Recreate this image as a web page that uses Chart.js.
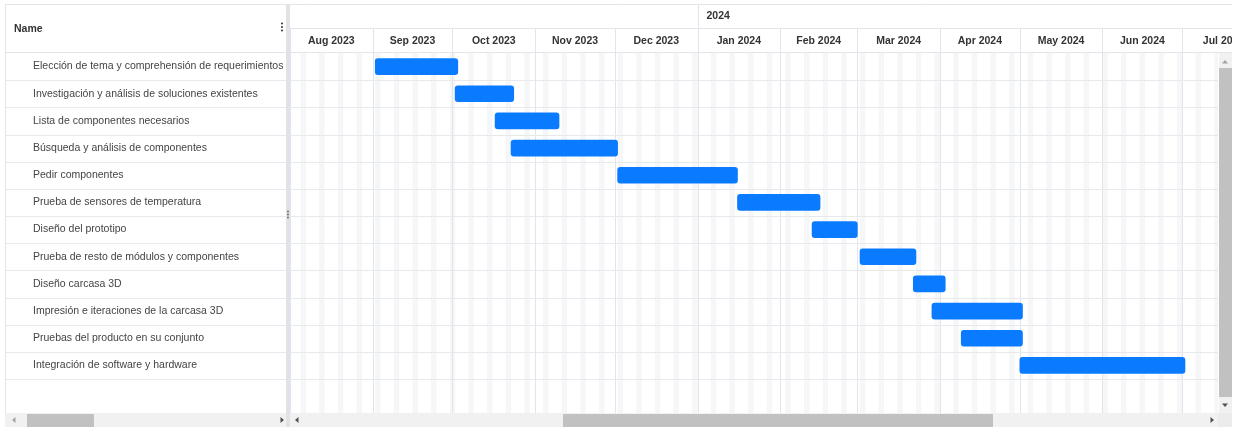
<!DOCTYPE html>
<html><head><meta charset="utf-8">
<script src="https://cdn.jsdelivr.net/npm/chart.js@4/dist/chart.umd.min.js"></script>
<style>html,body{margin:0;padding:0;background:#fff;overflow:hidden}#wrap{position:relative;width:1243px;height:427px}</style>
</head><body><div id="wrap"><canvas id="c" width="1243" height="427"></canvas></div>
<script>
const columnTitle = 'Name';
const taskNames = [
  'Elección de tema y comprehensión de requerimientos',
  'Investigación y análisis de soluciones existentes',
  'Lista de componentes necesarios',
  'Búsqueda y análisis de componentes',
  'Pedir componentes',
  'Prueba de sensores de temperatura',
  'Diseño del prototipo',
  'Prueba de resto de módulos y componentes',
  'Diseño carcasa 3D',
  'Impresión e iteraciones de la carcasa 3D',
  'Pruebas del producto en su conjunto',
  'Integración de software y hardware'
];
const taskStarts = ['2023-09-02','2023-10-02','2023-10-17','2023-10-23','2023-12-02','2024-01-16','2024-02-13','2024-03-02','2024-03-22','2024-03-29','2024-04-09','2024-05-01'];
const taskEnds   = ['2023-10-03','2023-10-24','2023-11-10','2023-12-02','2024-01-16','2024-02-16','2024-03-01','2024-03-23','2024-04-03','2024-05-02','2024-05-02','2024-07-02'];
const monthLabels = ['Aug 2023','Sep 2023','Oct 2023','Nov 2023','Dec 2023','Jan 2024','Feb 2024','Mar 2024','Apr 2024','May 2024','Jun 2024','Jul 2024'];
const monthStarts = ['2023-08-01','2023-09-01','2023-10-01','2023-11-01','2023-12-01','2024-01-01','2024-02-01','2024-03-01','2024-04-01','2024-05-01','2024-06-01','2024-07-01','2024-08-01'];
const yearLabels = ['2024'];
const yearStarts = ['2024-01-01'];
const viewStart = '2023-08-01';
const viewEnd = '2024-07-14';

const FONT = "'Liberation Sans', Arial, sans-serif";
const T0 = Date.UTC(2023, 7, 1);
function dayOf(s){ const [y,m,d] = s.split('-').map(Number); return (Date.UTC(y,m-1,d) - T0) / 864e5; }

const ganttPlugin = {
  id: 'gantt',
  beforeDraw(chart){
    const ctx = chart.ctx, xs = chart.scales.x, ys = chart.scales.y, ca = chart.chartArea;
    const bodyBottom = 413;
    ctx.save();
    ctx.fillStyle = '#fff'; ctx.fillRect(0,0,chart.width,chart.height);
    // weekend stripes
    ctx.beginPath(); ctx.rect(ca.left, ca.top, ca.right-ca.left, bodyBottom-ca.top); ctx.clip();
    ctx.fillStyle = '#f5f6f8';
    const d0 = Math.floor(xs.min), d1 = Math.ceil(xs.max);
    for (let d = d0; d <= d1; d++) {
      const wd = new Date(T0 + d*864e5).getUTCDay();
      if (wd === 0 || wd === 6) {
        const a = xs.getPixelForValue(d), b = xs.getPixelForValue(d+1);
        ctx.fillRect(a, ca.top, b-a, bodyBottom-ca.top);
      }
    }
    // month lines
    ctx.strokeStyle = '#e2e4e9'; ctx.lineWidth = 1;
    monthStarts.forEach(s => {
      const x = Math.round(xs.getPixelForValue(dayOf(s))) + 0.5;
      ctx.beginPath(); ctx.moveTo(x, ca.top); ctx.lineTo(x, bodyBottom); ctx.stroke();
    });
    ctx.restore();
    // row lines
    ctx.save();
    ctx.strokeStyle = '#e8e9ed'; ctx.lineWidth = 1;
    const rowH = (ca.bottom - ca.top) / taskNames.length;
    for (let i = 1; i <= taskNames.length; i++) {
      const y = Math.round(ys.getPixelForValue(i-1) + rowH/2) + 0.5;
      ctx.beginPath(); ctx.moveTo(5, y); ctx.lineTo(ca.right, y); ctx.stroke();
    }
    ctx.restore();
  },
  afterDraw(chart){
    const ctx = chart.ctx, xs = chart.scales.x, ca = chart.chartArea;
    const R = 1232, hTop = 4.5, hMid = 28.5, hBot = 53;
    ctx.save();
    // header background
    ctx.fillStyle = '#fff'; ctx.fillRect(5, 0, R-5, hBot);
    ctx.strokeStyle = '#e3e5ea'; ctx.lineWidth = 1;
    ctx.beginPath(); ctx.moveTo(5, hTop); ctx.lineTo(R, hTop); ctx.stroke();
    ctx.beginPath(); ctx.moveTo(ca.left, hMid); ctx.lineTo(R, hMid); ctx.stroke();
    ctx.beginPath(); ctx.moveTo(5, hBot-0.5); ctx.lineTo(R, hBot-0.5); ctx.stroke();
    ctx.beginPath(); ctx.moveTo(5.5, hTop); ctx.lineTo(5.5, 413); ctx.stroke();
    // header clip
    ctx.save();
    ctx.beginPath(); ctx.rect(ca.left, 0, R-ca.left, hBot); ctx.clip();
    ctx.strokeStyle = '#e2e4e9';
    monthStarts.forEach(s => {
      const x = Math.round(xs.getPixelForValue(dayOf(s))) + 0.5;
      ctx.beginPath(); ctx.moveTo(x, hMid); ctx.lineTo(x, hBot); ctx.stroke();
    });
    yearStarts.forEach(s => {
      const x = Math.round(xs.getPixelForValue(dayOf(s))) + 0.5;
      ctx.beginPath(); ctx.moveTo(x, hTop); ctx.lineTo(x, hMid); ctx.stroke();
    });
    ctx.fillStyle = '#333'; ctx.font = 'bold 10.5px ' + FONT; ctx.textBaseline = 'middle';
    ctx.textAlign = 'center';
    monthLabels.forEach((lab, i) => {
      const a = xs.getPixelForValue(dayOf(monthStarts[i])), b = xs.getPixelForValue(dayOf(monthStarts[i+1]));
      ctx.fillText(lab, (a+b)/2, 41);
    });
    ctx.textAlign = 'left';
    yearLabels.forEach((lab, i) => {
      ctx.fillText(lab, xs.getPixelForValue(dayOf(yearStarts[i])) + 9, 16.5);
    });
    ctx.restore();
    // Name header
    ctx.fillStyle = '#333'; ctx.font = 'bold 10.5px ' + FONT; ctx.textBaseline = 'middle'; ctx.textAlign = 'left';
    ctx.fillText(columnTitle, 14, 29);
    ctx.fillStyle = '#444';
    [23.5, 27, 30.5].forEach(y => { ctx.beginPath(); ctx.arc(282, y, 1.1, 0, Math.PI*2); ctx.fill(); });
    // splitter
    ctx.fillStyle = '#dfe2e7'; ctx.fillRect(286, hTop, 4, 427-hTop);
    ctx.fillStyle = '#666';
    [211.5, 214.5, 217.5].forEach(y => { ctx.beginPath(); ctx.arc(288, y, 0.9, 0, Math.PI*2); ctx.fill(); });
    // horizontal scrollbars
    ctx.fillStyle = '#f1f1f1'; ctx.fillRect(5, 413, 281, 14); ctx.fillRect(290, 413, ca.right-290, 14);
    ctx.fillStyle = '#c1c1c1'; ctx.fillRect(27, 414, 67, 13); ctx.fillRect(563, 414, 430, 13);
    ctx.fillStyle = '#ececec'; ctx.fillRect(ca.right, 413, R-ca.right, 14);
    // vertical scrollbar
    ctx.fillStyle = '#f1f1f1'; ctx.fillRect(1219, hBot, 13, 413-hBot);
    ctx.fillStyle = '#c1c1c1'; ctx.fillRect(1219, 68, 13, 329);
    function tri(x, y, dir, col){
      ctx.fillStyle = col; ctx.beginPath();
      if (dir==='l'){ ctx.moveTo(x-2,y); ctx.lineTo(x+1.5,y-3); ctx.lineTo(x+1.5,y+3); }
      if (dir==='r'){ ctx.moveTo(x+2,y); ctx.lineTo(x-1.5,y-3); ctx.lineTo(x-1.5,y+3); }
      if (dir==='u'){ ctx.moveTo(x,y-2); ctx.lineTo(x-3,y+1.5); ctx.lineTo(x+3,y+1.5); }
      if (dir==='d'){ ctx.moveTo(x,y+2); ctx.lineTo(x-3,y-1.5); ctx.lineTo(x+3,y-1.5); }
      ctx.closePath(); ctx.fill();
    }
    tri(14, 420, 'l', '#a3a3a3'); tri(282, 420, 'r', '#505050');
    tri(297, 420, 'l', '#505050'); tri(1212, 420, 'r', '#505050');
    tri(1225, 62, 'u', '#a3a3a3'); tri(1225, 405, 'd', '#505050');
    ctx.restore();
  }
};

new Chart(document.getElementById('c'), {
  type: 'bar',
  data: {
    labels: taskNames,
    datasets: [{
      data: taskStarts.map((s, i) => [dayOf(s), dayOf(taskEnds[i])]),
      backgroundColor: '#0a7bff',
      borderWidth: 0,
      borderRadius: 3,
      borderSkipped: false,
      barThickness: 16
    }]
  },
  options: {
    indexAxis: 'y',
    responsive: false,
    animation: false,
    devicePixelRatio: 1,
    layout: { padding: { left: 33, right: 25, top: 53, bottom: 48 } },
    plugins: { legend: { display: false }, tooltip: { enabled: false } },
    scales: {
      x: { type: 'linear', min: dayOf(viewStart), max: dayOf(viewEnd) + 0.4, display: false },
      y: {
        type: 'category', offset: true,
        grid: { display: false }, border: { display: false },
        ticks: { crossAlign: 'far', padding: 0, autoSkip: false, color: '#444', font: { family: FONT, size: 10.5 } },
        afterFit(a){ a.width = 257; }
      }
    }
  },
  plugins: [ganttPlugin]
});
</script></body></html>
